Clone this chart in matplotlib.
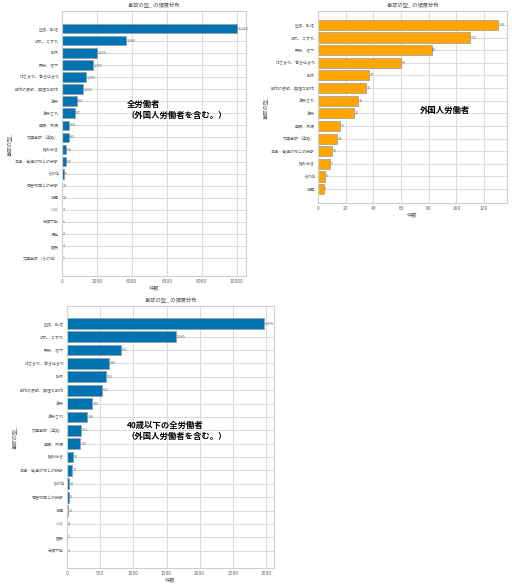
import matplotlib
matplotlib.use("Agg")
import matplotlib.pyplot as plt

plt.rcParams['font.family'] = ['Noto Sans CJK JP', 'DejaVu Sans']

# --- data ---
all_cats = ["墜落、転落", "切れ、こすれ", "転倒", "飛来、落下", "はさまれ、巻き込まれ",
            "動作の反動、無理な動作", "激突", "激突され", "崩壊、倒壊", "交通事故（道路）",
            "踏み抜き", "高温・低温の物との接触", "その他", "有害物等との接触", "感電",
            "火災", "分類不能", "爆発", "破裂", "交通事故（その他）"]
all_vals = [10029, 3686, 2026, 1769, 1392, 1223, 834, 727, 404, 385,
            218, 206, 90, 28, 14, 7, 6, 2, 2, 1]

for_cats = ["墜落、転落", "切れ、こすれ", "飛来、落下", "はさまれ、巻き込まれ", "転倒",
            "動作の反動、無理な動作", "激突され", "激突", "崩壊、倒壊", "交通事故（道路）",
            "高温・低温の物との接触", "踏み抜き", "その他", "感電"]
for_vals = [130, 110, 82, 60, 37, 35, 29, 26, 16, 14, 10, 9, 5, 4]

u40_cats = ["墜落、転落", "切れ、こすれ", "飛来、落下", "はさまれ、巻き込まれ", "転倒",
            "動作の反動、無理な動作", "激突", "激突され", "交通事故（道路）", "崩壊、倒壊",
            "踏み抜き", "高温・低温の物との接触", "その他", "有害物等との接触", "感電",
            "火災", "破裂", "分類不能"]
u40_vals = [2971, 1645, 815, 640, 595, 532, 375, 308, 212, 200,
            97, 72, 29, 26, 13, 4, 2, 2]

all_ticks = [0, 2000, 4000, 6000, 8000, 10000]
for_ticks = [0, 20, 40, 60, 80, 100, 120]
u40_ticks = [0, 500, 1000, 1500, 2000, 2500, 3000]

W, H = 512, 588
fig = plt.figure(figsize=(W / 100, H / 100), dpi=100)
fig.patch.set_facecolor('white')


def rect(l, r, t, b):
    return [l / W, (H - b) / H, (r - l) / W, (b - t) / H]


def panel(r, cats, vals, ticks, color, margin, comma):
    ax = fig.add_axes(r)
    n = len(cats)
    ys = list(range(n))
    ax.set_axisbelow(True)
    ax.grid(True, color='#dcdcdc', linewidth=0.8)
    ax.barh(ys, vals, height=0.8, color=color, edgecolor='#9a9a9a', linewidth=0.5)
    vmax = max(vals)
    ax.set_xlim(0, vmax * 1.05)
    ax.set_ylim(n - 1 + margin, -margin)
    ax.set_yticks(ys)
    ax.set_yticklabels(cats, fontsize=2.9, color='#666666')
    ax.set_xticks(ticks)
    ax.set_xticklabels([str(t) for t in ticks], fontsize=3.6, color='#666666')
    ax.tick_params(axis='both', length=0, pad=2)
    for s in ax.spines.values():
        s.set_color('#d0d0d0')
        s.set_linewidth(0.8)
    for y, v in zip(ys, vals):
        lab = f"{v:,}" if comma else f"{v}"
        ax.text(v + vmax * 0.003, y, lab, fontsize=2.6, color='#666666',
                va='center', ha='left')
    ax.set_title("事故の型_ の頻度分布", fontsize=3.8, color='#555555', pad=3)
    ax.set_xlabel("件数", fontsize=3.8, color='#555555', labelpad=1)
    ax.set_ylabel("事故の型_", fontsize=3.8, color='#555555', labelpad=2)
    return ax


panel(rect(62, 246, 11, 276), all_cats, all_vals, all_ticks, '#0173b2', 1.45, True)
panel(rect(318, 507, 11, 203), for_cats, for_vals, for_ticks, '#ffa500', 1.1, False)
panel(rect(67, 274, 306, 568), u40_cats, u40_vals, u40_ticks, '#0173b2', 1.29, True)

fig.text(127 / W, 1 - 110 / H, "全労働者\n（外国人労働者を含む。）", fontsize=6,
         fontweight='bold', ha='left', va='center', linespacing=1.2)
fig.text(420 / W, 1 - 110 / H, "外国人労働者", fontsize=6,
         fontweight='bold', ha='left', va='center')
fig.text(127 / W, 1 - 431 / H, "40歳以下の全労働者\n（外国人労働者を含む。）", fontsize=6,
         fontweight='bold', ha='left', va='center', linespacing=1.2)

fig.savefig("out.png", dpi=100, facecolor='white')
